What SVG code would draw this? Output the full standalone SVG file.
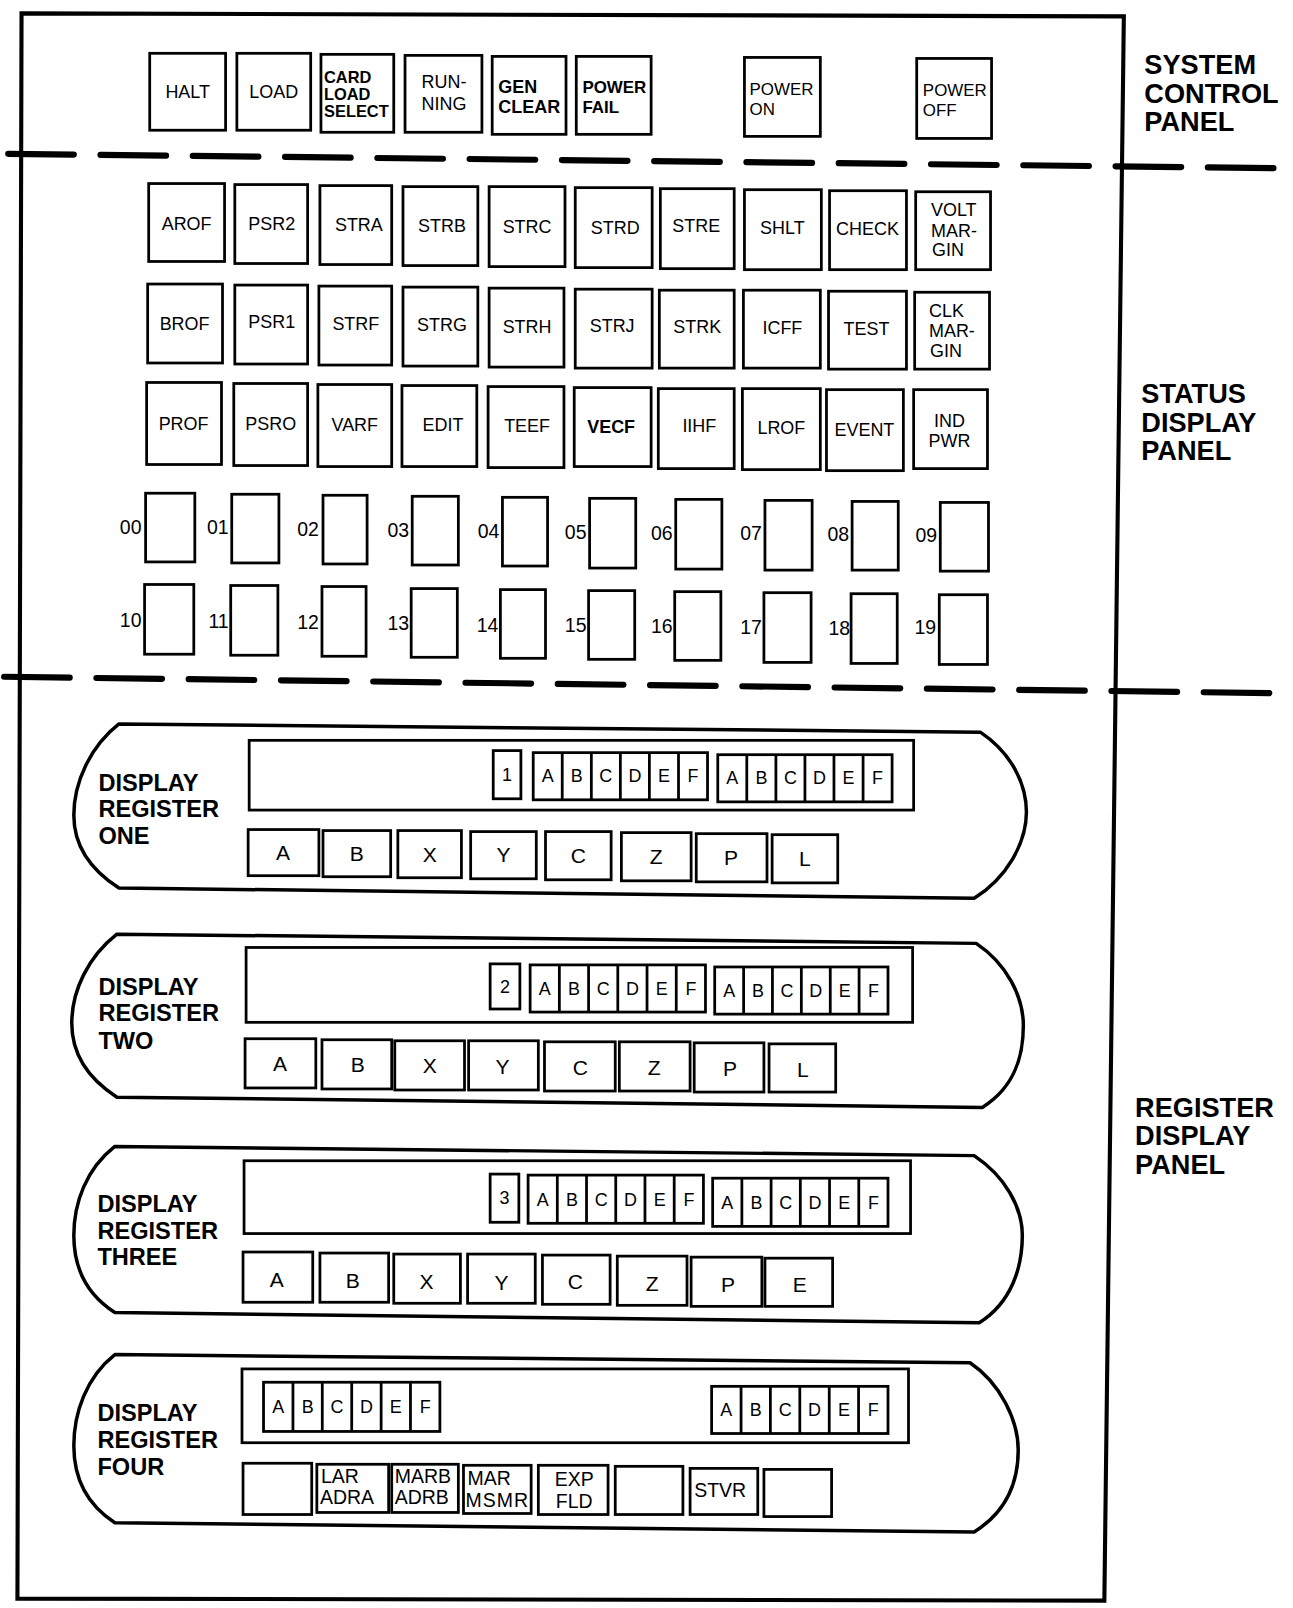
<svg xmlns="http://www.w3.org/2000/svg" width="1293" height="1608" viewBox="0 0 1293 1608">
<style>
.bx{fill:none;stroke:#000;stroke-width:2.7}
.t{font-family:"Liberation Sans",Arial,sans-serif;font-size:17.5px;text-anchor:middle;fill:#000}
.tl{text-anchor:start}
.tb{font-weight:bold}
.hd{font-family:"Liberation Sans",Arial,sans-serif;font-size:26.5px;font-weight:bold;fill:#000}
.rl{font-family:"Liberation Sans",Arial,sans-serif;font-size:23px;font-weight:bold;fill:#000}
.n{font-family:"Liberation Sans",Arial,sans-serif;font-size:19px;text-anchor:end;fill:#000}
.k{font-family:"Liberation Sans",Arial,sans-serif;font-size:20.5px;text-anchor:middle;fill:#000}
.m{font-family:"Liberation Sans",Arial,sans-serif;font-size:19px;fill:#000}
.pn{fill:none;stroke:#000;stroke-width:3.4;stroke-linejoin:round}
.fr{fill:none;stroke:#000;stroke-width:4}
.dv{fill:none;stroke:#000;stroke-width:6;stroke-linecap:round;stroke-dasharray:64 26}
</style>
<rect width="1293" height="1608" fill="#fff"/>
<g transform="scale(1.0254)">
<polygon id="frame" class="fr" points="21,13 1096,16 1077,1561 17,1559"/>
<g id="connectors">
<path class="dv" d="M8,150 L1247,164"/>
<path class="dv" d="M4,660 L1245,676"/>
</g>
<g id="side-labels">
<text class="hd" x="1116" y="72">SYSTEM</text>
<text class="hd" x="1116" y="100">CONTROL</text>
<text class="hd" x="1116" y="128">PANEL</text>
<text class="hd" x="1113" y="393">STATUS</text>
<text class="hd" x="1113" y="421">DISPLAY</text>
<text class="hd" x="1113" y="449">PANEL</text>
<text class="hd" x="1107" y="1089">REGISTER</text>
<text class="hd" x="1107" y="1117">DISPLAY</text>
<text class="hd" x="1107" y="1145">PANEL</text>
</g>
<!-- system control panel -->
<g id="halt"><rect class="bx" x="146" y="52" width="74" height="75"/><text class="t" x="183" y="96">HALT</text></g>
<g id="load"><rect class="bx" x="231" y="52" width="72" height="75"/><text class="t" x="267" y="96">LOAD</text></g>
<g id="card-load-select"><rect class="bx" x="313" y="53" width="71" height="76"/><text class="t tl tb" style="font-size:16px" x="316" y="81">CARD</text><text class="t tl tb" style="font-size:16px" x="316" y="97.5">LOAD</text><text class="t tl tb" style="font-size:16px" x="316" y="114">SELECT</text></g>
<g id="running"><rect class="bx" x="395" y="54" width="75" height="75"/><text class="t" x="433" y="86">RUN-</text><text class="t" x="433" y="107">NING</text></g>
<g id="gen-clear"><rect class="bx" x="480" y="55" width="72" height="76"/><text class="t tl tb" x="486" y="91">GEN</text><text class="t tl tb" x="486" y="110">CLEAR</text></g>
<g id="power-fail"><rect class="bx" x="562" y="55" width="73" height="76"/><text class="t tl tb" style="font-size:16.5px" x="568" y="91">POWER</text><text class="t tl tb" style="font-size:16.5px" x="568" y="110">FAIL</text></g>
<g id="power-on"><rect class="bx" x="726" y="56" width="74" height="77"/><text class="t tl" style="font-size:16.5px" x="731" y="93">POWER</text><text class="t tl" style="font-size:16.5px" x="731" y="112">ON</text></g>
<g id="power-off"><rect class="bx" x="894" y="57" width="73" height="78"/><text class="t tl" style="font-size:16.5px" x="900" y="94">POWER</text><text class="t tl" style="font-size:16.5px" x="900" y="113">OFF</text></g>
<!-- status row 1 -->
<g id="arof"><rect class="bx" x="145" y="179" width="74" height="76"/><text class="t" x="182" y="224">AROF</text></g>
<g id="psr2"><rect class="bx" x="229" y="180" width="71" height="77"/><text class="t" x="265" y="224">PSR2</text></g>
<g id="stra"><rect class="bx" x="312" y="181" width="70" height="77"/><text class="t" x="350" y="225">STRA</text></g>
<g id="strb"><rect class="bx" x="393" y="182" width="73" height="77"/><text class="t" x="431" y="226">STRB</text></g>
<g id="strc"><rect class="bx" x="477" y="182" width="74" height="78"/><text class="t" x="514" y="227">STRC</text></g>
<g id="strd"><rect class="bx" x="561" y="183" width="75" height="78"/><text class="t" x="600" y="228">STRD</text></g>
<g id="stre"><rect class="bx" x="644" y="184" width="72" height="78"/><text class="t" x="679" y="226">STRE</text></g>
<g id="shlt"><rect class="bx" x="726" y="185" width="75" height="78"/><text class="t" x="763" y="228">SHLT</text></g>
<g id="check"><rect class="bx" x="809" y="186" width="75" height="77"/><text class="t" x="846" y="229">CHECK</text></g>
<g id="volt-margin"><rect class="bx" x="893" y="187" width="73" height="76"/><text class="t tl" x="908" y="211">VOLT</text><text class="t tl" x="908" y="231">MAR-</text><text class="t tl" x="909" y="250">GIN</text></g>
<!-- status row 2 -->
<g id="brof"><rect class="bx" x="144" y="277" width="73" height="77"/><text class="t" x="180" y="322">BROF</text></g>
<g id="psr1"><rect class="bx" x="229" y="278" width="71" height="77"/><text class="t" x="265" y="320">PSR1</text></g>
<g id="strf"><rect class="bx" x="311" y="279" width="71" height="77"/><text class="t" x="347" y="322">STRF</text></g>
<g id="strg"><rect class="bx" x="393" y="280" width="73" height="77"/><text class="t" x="431" y="323">STRG</text></g>
<g id="strh"><rect class="bx" x="477" y="281" width="73" height="77"/><text class="t" x="514" y="325">STRH</text></g>
<g id="strj"><rect class="bx" x="561" y="282" width="75" height="77"/><text class="t" x="597" y="324">STRJ</text></g>
<g id="strk"><rect class="bx" x="643" y="283" width="73" height="76"/><text class="t" x="680" y="325">STRK</text></g>
<g id="icff"><rect class="bx" x="725" y="283" width="75" height="76"/><text class="t" x="763" y="326">ICFF</text></g>
<g id="test"><rect class="bx" x="808" y="284" width="76" height="76"/><text class="t" x="845" y="327">TEST</text></g>
<g id="clk-margin"><rect class="bx" x="892" y="285" width="73" height="75"/><text class="t tl" x="906" y="309">CLK</text><text class="t tl" x="906" y="329">MAR-</text><text class="t tl" x="907" y="348">GIN</text></g>
<!-- status row 3 -->
<g id="prof"><rect class="bx" x="143" y="373" width="73" height="80"/><text class="t" x="179" y="419">PROF</text></g>
<g id="psro"><rect class="bx" x="228" y="374" width="72" height="80"/><text class="t" x="264" y="419">PSRO</text></g>
<g id="varf"><rect class="bx" x="310" y="375" width="72" height="80"/><text class="t" x="346" y="420">VARF</text></g>
<g id="edit"><rect class="bx" x="392" y="376" width="73" height="79"/><text class="t" x="432" y="420">EDIT</text></g>
<g id="teef"><rect class="bx" x="476" y="377" width="74" height="79"/><text class="t" x="514" y="421">TEEF</text></g>
<g id="vecf"><rect class="bx" x="560" y="378" width="75" height="77"/><text class="t tb" x="596" y="422">VECF</text></g>
<g id="iihf"><rect class="bx" x="642" y="379" width="74" height="78"/><text class="t" x="682" y="421">IIHF</text></g>
<g id="lrof"><rect class="bx" x="724" y="379" width="76" height="79"/><text class="t" x="762" y="423">LROF</text></g>
<g id="event"><rect class="bx" x="806" y="380" width="75" height="79"/><text class="t" x="843" y="425">EVENT</text></g>
<g id="ind-pwr"><rect class="bx" x="891" y="380" width="72" height="77"/><text class="t" x="926" y="416">IND</text><text class="t" x="926" y="436">PWR</text></g>
<!-- indicator rows -->
<g id="ind-00"><rect class="bx" x="142" y="481" width="48" height="67"/><text class="n" x="138" y="521">00</text></g>
<g id="ind-01"><rect class="bx" x="226" y="482" width="46" height="67"/><text class="n" x="223" y="521">01</text></g>
<g id="ind-02"><rect class="bx" x="315" y="483" width="43" height="67"/><text class="n" x="311" y="523">02</text></g>
<g id="ind-03"><rect class="bx" x="402" y="484" width="45" height="67"/><text class="n" x="399" y="524">03</text></g>
<g id="ind-04"><rect class="bx" x="490" y="485" width="44" height="67"/><text class="n" x="487" y="525">04</text></g>
<g id="ind-05"><rect class="bx" x="575" y="486" width="45" height="68"/><text class="n" x="572" y="526">05</text></g>
<g id="ind-06"><rect class="bx" x="659" y="487" width="45" height="68"/><text class="n" x="656" y="527">06</text></g>
<g id="ind-07"><rect class="bx" x="746" y="488" width="46" height="68"/><text class="n" x="743" y="527">07</text></g>
<g id="ind-08"><rect class="bx" x="831" y="489" width="45" height="67"/><text class="n" x="828" y="528">08</text></g>
<g id="ind-09"><rect class="bx" x="917" y="490" width="47" height="67"/><text class="n" x="914" y="529">09</text></g>
<g id="ind-10"><rect class="bx" x="141" y="570" width="48" height="68"/><text class="n" x="138" y="611">10</text></g>
<g id="ind-11"><rect class="bx" x="225" y="571" width="46" height="68"/><text class="n" x="223" y="612">11</text></g>
<g id="ind-12"><rect class="bx" x="314" y="572" width="43" height="68"/><text class="n" x="311" y="613">12</text></g>
<g id="ind-13"><rect class="bx" x="401" y="574" width="45" height="67"/><text class="n" x="399" y="614">13</text></g>
<g id="ind-14"><rect class="bx" x="488" y="575" width="44" height="67"/><text class="n" x="486" y="616">14</text></g>
<g id="ind-15"><rect class="bx" x="574" y="576" width="45" height="67"/><text class="n" x="572" y="616">15</text></g>
<g id="ind-16"><rect class="bx" x="658" y="577" width="45" height="67"/><text class="n" x="656" y="617">16</text></g>
<g id="ind-17"><rect class="bx" x="745" y="578" width="46" height="68"/><text class="n" x="743" y="618">17</text></g>
<g id="ind-18"><rect class="bx" x="830" y="579" width="45" height="68"/><text class="n" x="829" y="619">18</text></g>
<g id="ind-19"><rect class="bx" x="916" y="580" width="47" height="68"/><text class="n" x="913" y="618">19</text></g>

<!-- display register one -->
<g id="display-register-one">
<path class="pn" d="M116,706 L956,714 C986,734 1001,764 1001,792 C1001,822 982,856 950,876 L116,866 C88,848 72,825 72,795 C72,763 88,728 116,706 Z"/>
<text class="rl" x="96" y="771">DISPLAY</text><text class="rl" x="96" y="797">REGISTER</text><text class="rl" x="96" y="823">ONE</text>
<rect class="bx" x="243" y="722" width="648" height="68"/>
<rect class="bx" x="481" y="732" width="27" height="47"/><text class="t" x="494.5" y="762">1</text>
<rect class="bx" x="520" y="734" width="170" height="46"/><path class="bx" d="M548.3,734V780M576.7,734V780M605,734V780M633.3,734V780M661.7,734V780"/>
<text class="t" x="534.2" y="763">A</text><text class="t" x="562.5" y="763">B</text><text class="t" x="590.8" y="763">C</text><text class="t" x="619.2" y="763">D</text><text class="t" x="647.5" y="763">E</text><text class="t" x="675.8" y="763">F</text>
<rect class="bx" x="700" y="736" width="170" height="46"/><path class="bx" d="M728.3,736V782M756.7,736V782M785,736V782M813.3,736V782M841.7,736V782"/>
<text class="t" x="714.2" y="765">A</text><text class="t" x="742.5" y="765">B</text><text class="t" x="770.8" y="765">C</text><text class="t" x="799.2" y="765">D</text><text class="t" x="827.5" y="765">E</text><text class="t" x="855.8" y="765">F</text>
<rect class="bx" x="242" y="809" width="69" height="45"/><text class="k" x="276" y="839">A</text>
<rect class="bx" x="315" y="810" width="66" height="45"/><text class="k" x="348" y="840">B</text>
<rect class="bx" x="388" y="810" width="62" height="46"/><text class="k" x="419" y="841">X</text>
<rect class="bx" x="459" y="811" width="64" height="46"/><text class="k" x="491" y="841">Y</text>
<rect class="bx" x="532" y="811" width="64" height="47"/><text class="k" x="564" y="842">C</text>
<rect class="bx" x="606" y="812" width="68" height="47"/><text class="k" x="640" y="843">Z</text>
<rect class="bx" x="679" y="813" width="69" height="47"/><text class="k" x="713" y="844">P</text>
<rect class="bx" x="753" y="814" width="64" height="47"/><text class="k" x="785" y="845">L</text>
</g>

<!-- display register two -->
<g id="display-register-two">
<path class="pn" d="M114,911 L952,920 C982,940 998,972 998,1000 C998,1030 990,1060 958,1080 L114,1070 C86,1052 70,1028 70,998 C70,966 86,933 114,911 Z"/>
<text class="rl" x="96" y="970">DISPLAY</text><text class="rl" x="96" y="996">REGISTER</text><text class="rl" x="96" y="1023">TWO</text>
<rect class="bx" x="240" y="924" width="650" height="73"/>
<rect class="bx" x="478" y="940" width="29" height="44"/><text class="t" x="492.5" y="968">2</text>
<rect class="bx" x="517" y="941" width="171" height="46"/><path class="bx" d="M545.5,941V987M574,941V987M602.5,941V987M631,941V987M659.5,941V987"/>
<text class="t" x="531.3" y="970">A</text><text class="t" x="559.8" y="970">B</text><text class="t" x="588.3" y="970">C</text><text class="t" x="616.8" y="970">D</text><text class="t" x="645.3" y="970">E</text><text class="t" x="673.8" y="970">F</text>
<rect class="bx" x="697" y="943" width="169" height="46"/><path class="bx" d="M725.2,943V989M753.3,943V989M781.5,943V989M809.7,943V989M837.8,943V989"/>
<text class="t" x="711.1" y="972">A</text><text class="t" x="739.3" y="972">B</text><text class="t" x="767.4" y="972">C</text><text class="t" x="795.6" y="972">D</text><text class="t" x="823.8" y="972">E</text><text class="t" x="851.9" y="972">F</text>
<rect class="bx" x="239" y="1013" width="69" height="48"/><text class="k" x="273" y="1044">A</text>
<rect class="bx" x="314" y="1014" width="68" height="48"/><text class="k" x="349" y="1045">B</text>
<rect class="bx" x="385" y="1015" width="68" height="48"/><text class="k" x="419" y="1046">X</text>
<rect class="bx" x="457" y="1015" width="68" height="48"/><text class="k" x="490" y="1047">Y</text>
<rect class="bx" x="531" y="1016" width="69" height="48"/><text class="k" x="566" y="1048">C</text>
<rect class="bx" x="604" y="1016" width="69" height="48"/><text class="k" x="638" y="1048">Z</text>
<rect class="bx" x="677" y="1017" width="68" height="48"/><text class="k" x="712" y="1049">P</text>
<rect class="bx" x="750" y="1018" width="65" height="47"/><text class="k" x="783" y="1050">L</text>
</g>

<!-- display register three -->
<g id="display-register-three">
<path class="pn" d="M112,1118 L950,1127 C980,1147 997,1177 997,1205 C997,1235 987,1270 955,1290 L112,1280 C84,1262 72,1235 72,1205 C72,1173 84,1140 112,1118 Z"/>
<text class="rl" x="95" y="1182">DISPLAY</text><text class="rl" x="95" y="1208">REGISTER</text><text class="rl" x="95" y="1234">THREE</text>
<rect class="bx" x="238" y="1132" width="650" height="71"/>
<rect class="bx" x="478" y="1145" width="28" height="47"/><text class="t" x="492" y="1174">3</text>
<rect class="bx" x="515" y="1146" width="171" height="47"/><path class="bx" d="M543.5,1146V1193M572,1146V1193M600.5,1146V1193M629,1146V1193M657.5,1146V1193"/>
<text class="t" x="529.3" y="1176">A</text><text class="t" x="557.8" y="1176">B</text><text class="t" x="586.3" y="1176">C</text><text class="t" x="614.8" y="1176">D</text><text class="t" x="643.3" y="1176">E</text><text class="t" x="671.8" y="1176">F</text>
<rect class="bx" x="695" y="1149" width="171" height="47"/><path class="bx" d="M723.5,1149V1196M752,1149V1196M780.5,1149V1196M809,1149V1196M837.5,1149V1196"/>
<text class="t" x="709.3" y="1179">A</text><text class="t" x="737.8" y="1179">B</text><text class="t" x="766.3" y="1179">C</text><text class="t" x="794.8" y="1179">D</text><text class="t" x="823.3" y="1179">E</text><text class="t" x="851.8" y="1179">F</text>
<rect class="bx" x="237" y="1221" width="68" height="49"/><text class="k" x="270" y="1255">A</text>
<rect class="bx" x="312" y="1222" width="67" height="48"/><text class="k" x="344" y="1256">B</text>
<rect class="bx" x="384" y="1223" width="65" height="48"/><text class="k" x="416" y="1257">X</text>
<rect class="bx" x="456" y="1223" width="66" height="48"/><text class="k" x="489" y="1258">Y</text>
<rect class="bx" x="529" y="1224" width="66" height="48"/><text class="k" x="561" y="1257">C</text>
<rect class="bx" x="602" y="1225" width="68" height="48"/><text class="k" x="636" y="1259">Z</text>
<rect class="bx" x="674" y="1226" width="69" height="48"/><text class="k" x="710" y="1260">P</text>
<rect class="bx" x="746" y="1227" width="66" height="47"/><text class="k" x="780" y="1260">E</text>
</g>

<!-- display register four -->
<g id="display-register-four">
<path class="pn" d="M112,1321 L946,1329 C976,1349 993,1386 993,1414 C993,1444 982,1474 950,1494 L112,1485 C84,1467 72,1440 72,1410 C72,1378 84,1343 112,1321 Z"/>
<text class="rl" x="95" y="1386">DISPLAY</text><text class="rl" x="95" y="1412">REGISTER</text><text class="rl" x="95" y="1438">FOUR</text>
<rect class="bx" x="236" y="1335" width="650" height="72"/>
<rect class="bx" x="257" y="1348" width="172" height="48"/><path class="bx" d="M285.7,1348V1396M314.3,1348V1396M343,1348V1396M371.7,1348V1396M400.3,1348V1396"/>
<text class="t" x="271.3" y="1378">A</text><text class="t" x="300" y="1378">B</text><text class="t" x="328.7" y="1378">C</text><text class="t" x="357.3" y="1378">D</text><text class="t" x="386" y="1378">E</text><text class="t" x="414.7" y="1378">F</text>
<rect class="bx" x="694" y="1352" width="172" height="46"/><path class="bx" d="M722.7,1352V1398M751.3,1352V1398M780,1352V1398M808.7,1352V1398M837.3,1352V1398"/>
<text class="t" x="708.3" y="1381">A</text><text class="t" x="737" y="1381">B</text><text class="t" x="765.7" y="1381">C</text><text class="t" x="794.3" y="1381">D</text><text class="t" x="823" y="1381">E</text><text class="t" x="851.7" y="1381">F</text>
<rect class="bx" x="237" y="1427" width="67" height="50"/>
<rect class="bx" x="309" y="1428" width="70" height="47"/><text class="m" x="313" y="1446">LAR</text><text class="m" x="312" y="1467">ADRA</text>
<rect class="bx" x="382" y="1428" width="65" height="47"/><text class="m" x="385" y="1446">MARB</text><text class="m" x="385" y="1467">ADRB</text>
<rect class="bx" x="452" y="1429" width="66" height="47"/><text class="m" x="456" y="1448">MAR</text><text class="m" x="454" y="1470" textLength="61">MSMR</text>
<rect class="bx" x="525" y="1429" width="68" height="48"/><text class="m" x="560" y="1449" text-anchor="middle">EXP</text><text class="m" x="560" y="1471" text-anchor="middle">FLD</text>
<rect class="bx" x="600" y="1430" width="66" height="47"/>
<rect class="bx" x="673" y="1432" width="66" height="45"/><text class="m" x="677" y="1460">STVR</text>
<rect class="bx" x="745" y="1433" width="66" height="46"/>
</g>
</g>
</svg>
